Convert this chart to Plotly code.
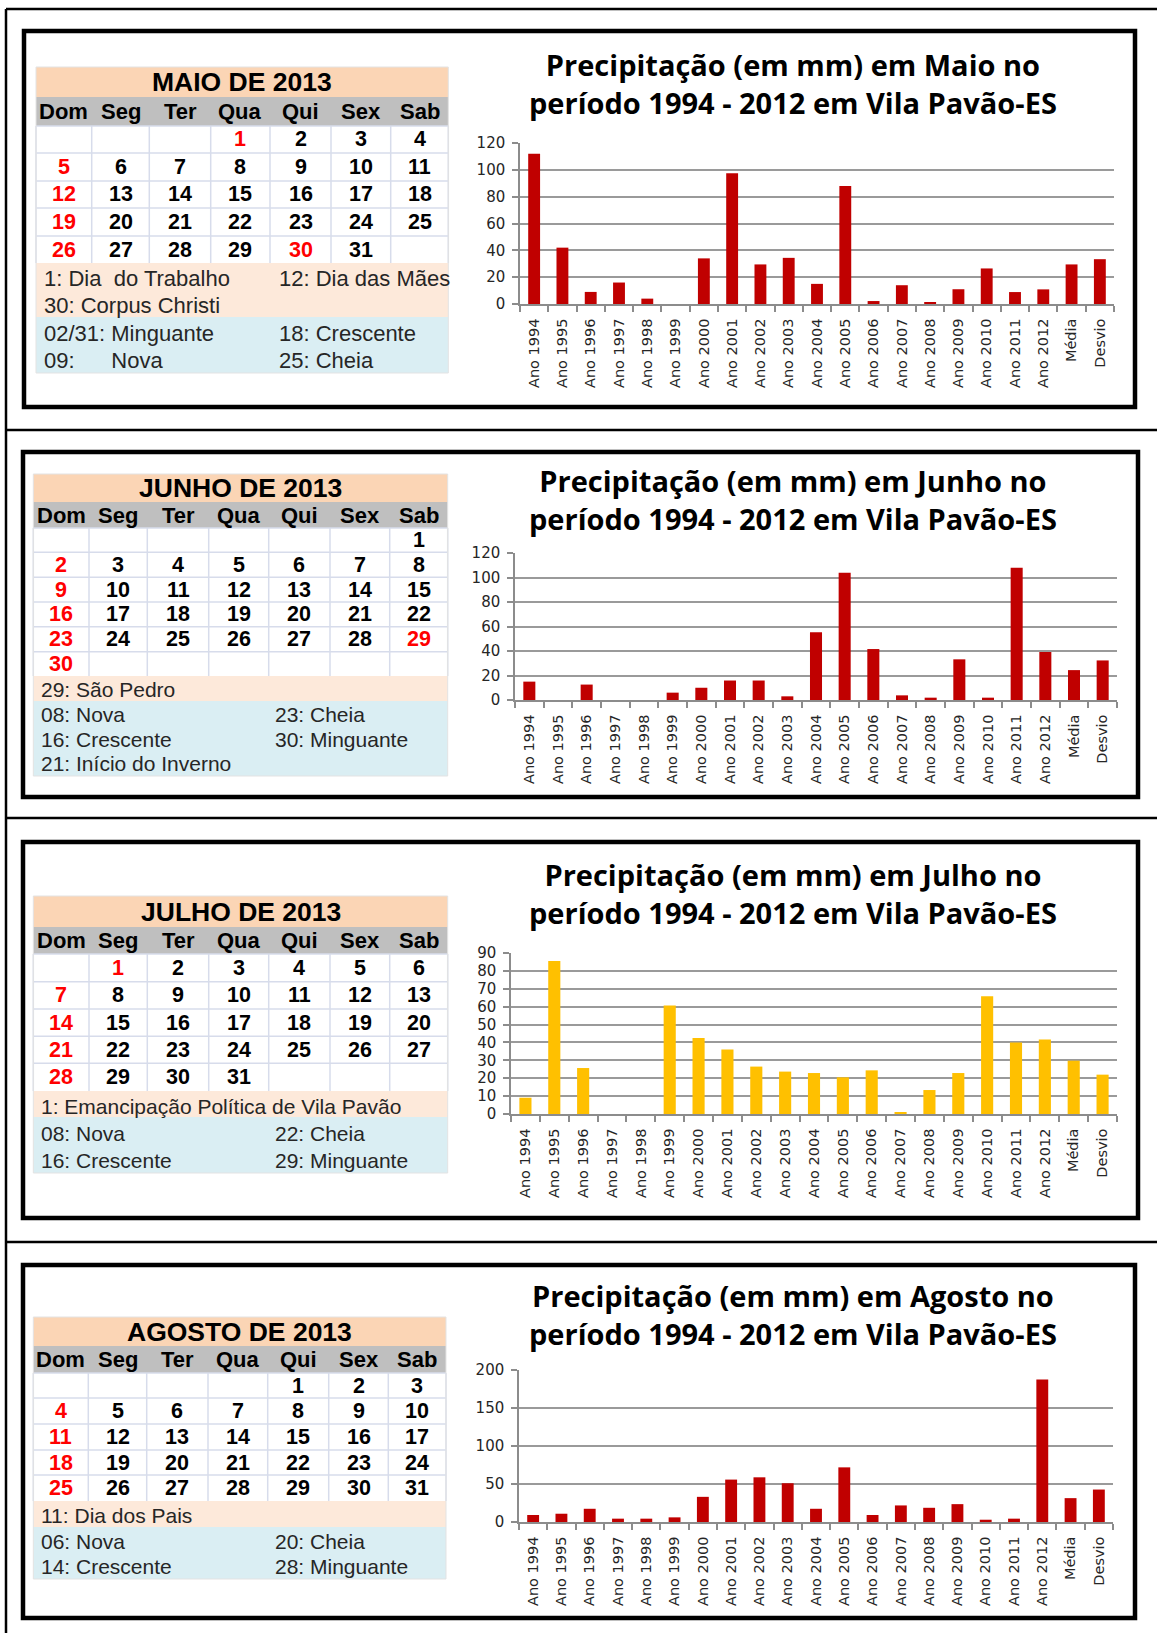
import plotly.graph_objects as go

W, H = 1157, 1633

# ---------------------------------------------------------------- data
categories = ["Ano 1994", "Ano 1995", "Ano 1996", "Ano 1997", "Ano 1998",
              "Ano 1999", "Ano 2000", "Ano 2001", "Ano 2002", "Ano 2003",
              "Ano 2004", "Ano 2005", "Ano 2006", "Ano 2007", "Ano 2008",
              "Ano 2009", "Ano 2010", "Ano 2011", "Ano 2012", "Média", "Desvio"]

maio_mm = [112, 42, 9, 16, 4, 0, 34, 97.5, 29.5, 34.4, 15, 88, 2.2, 14, 1.2,
           11, 26.5, 8.9, 10.9, 29.5, 33.4]
junho_mm = [15, 0, 12.6, 0, 0, 6, 10, 15.9, 15.9, 3, 55.3, 103.8, 41.6, 3.8,
            1.9, 33.2, 1.9, 108, 39.2, 24.4, 32.3]
julho_mm = [9.1, 85.5, 25.7, 0, 0, 60.7, 42.5, 36, 26.5, 23.7, 22.9, 20.5,
            24.4, 1.1, 13.4, 22.9, 65.8, 40, 41.7, 29.8, 22]
agosto_mm = [9.2, 10.9, 17.4, 4.4, 4.4, 6.1, 33.1, 55.8, 58.8, 51, 17.4, 71.9,
             9.2, 21.8, 18.7, 23.5, 3, 4.4, 187.4, 31.4, 42.7]

chart_titles = [
    ("Precipitação (em mm) em Maio no", "período 1994 - 2012 em Vila Pavão-ES"),
    ("Precipitação (em mm) em Junho no", "período 1994 - 2012 em Vila Pavão-ES"),
    ("Precipitação (em mm) em Julho no", "período 1994 - 2012 em Vila Pavão-ES"),
    ("Precipitação (em mm) em Agosto no", "período 1994 - 2012 em Vila Pavão-ES"),
]

weekdays = ["Dom", "Seg", "Ter", "Qua", "Qui", "Sex", "Sab"]

month_titles = ["MAIO DE 2013", "JUNHO DE 2013", "JULHO DE 2013", "AGOSTO DE 2013"]
first_weekday = [3, 6, 1, 4]          # column of day 1 (0 = Dom)
days_in_month = [31, 30, 31, 31]
holidays = [[1, 30], [29], [1], []]

# notes: (text, column, line)
pink_notes = [
    [("1: Dia\u00a0 do Trabalho", 0, 0), ("12: Dia das Mães", 1, 0),
     ("30: Corpus Christi", 0, 1)],
    [("29: São Pedro", 0, 0)],
    [("1: Emancipação Política de Vila Pavão", 0, 0)],
    [("11: Dia dos Pais", 0, 0)],
]
blue_notes = [
    [("02/31: Minguante", 0, 0), ("18: Crescente", 1, 0),
     ("09:\u00a0\u00a0\u00a0\u00a0\u00a0\u00a0Nova", 0, 1), ("25: Cheia", 1, 1)],
    [("08: Nova", 0, 0), ("23: Cheia", 1, 0), ("16: Crescente", 0, 1),
     ("30: Minguante", 1, 1), ("21: Início do Inverno", 0, 2)],
    [("08: Nova", 0, 0), ("22: Cheia", 1, 0), ("16: Crescente", 0, 1),
     ("29: Minguante", 1, 1)],
    [("06: Nova", 0, 0), ("20: Cheia", 1, 0), ("14: Crescente", 0, 1),
     ("28: Minguante", 1, 1)],
]

# ---------------------------------------------------------------- layout (pixels)
cal_boxes = [
    dict(cols=[36, 91.7, 149.3, 210.7, 270, 331, 390.7, 448.3], title=(67, 97),
         header=(97, 126), rows=[126, 153, 181, 208, 236, 263], pink=(263, 317),
         blue=(317, 373), note_x=(42, 277), pink_lines=[278, 305],
         blue_lines=[333, 360], note_size=22),
    dict(cols=[33.3, 89, 147.3, 208.7, 268.7, 330, 389.7, 447.7], title=(474, 502),
         header=(502, 528), rows=[528, 552.3, 577.3, 602, 626.7, 651.7, 676],
         pink=(676, 701), blue=(701, 776), note_x=(39, 273), pink_lines=[689],
         blue_lines=[714, 739, 763], note_size=21),
    dict(cols=[33.3, 89, 147.3, 208.7, 268.7, 330, 389.7, 447.7], title=(896, 927),
         header=(927, 954), rows=[954, 981.7, 1009, 1036.3, 1063.3, 1091],
         pink=(1091, 1117), blue=(1117, 1173), note_x=(39, 273), pink_lines=[1106],
         blue_lines=[1133, 1160], note_size=21),
    dict(cols=[33.3, 88.3, 146.7, 208, 267.7, 328.7, 388.3, 446], title=(1317, 1346),
         header=(1346, 1373), rows=[1373, 1398, 1424, 1450, 1475, 1501],
         pink=(1501, 1527), blue=(1527, 1579), note_x=(39, 273), pink_lines=[1515],
         blue_lines=[1541, 1566], note_size=21),
]

# title_y is the vertical centre of the two-line chart heading
chart_boxes = [
    dict(x=(520, 1114), y=(143, 304), ymax=120, dtick=20, title_y=83.5),
    dict(x=(515, 1117), y=(553, 700), ymax=120, dtick=20, title_y=499),
    dict(x=(511, 1117), y=(953, 1114), ymax=90, dtick=10, title_y=893.5),
    dict(x=(519, 1113), y=(1370, 1522), ymax=200, dtick=50, title_y=1314),
]
series = [maio_mm, junho_mm, julho_mm, agosto_mm]
bar_colors = ["#C00000", "#C00000", "#FFC000", "#C00000"]

frames = [(24, 31, 1135, 407), (23, 452, 1138, 797), (23, 842, 1138, 1218),
          (23, 1265, 1135, 1618)]
separators = [9, 430, 818, 1242]

# ---------------------------------------------------------------- helpers
shapes, annotations = [], []
CAL_FONT = "Liberation Sans, Arial, sans-serif"
TITLE_FONT = "Open Sans, sans-serif"
TICK_FONT = "DejaVu Sans, sans-serif"


def fx(x):
    return x / W


def fy(y):
    return 1 - y / H


def rect(x0, y0, x1, y1, fill=None, color=None, width=0, layer="below"):
    shapes.append(dict(type="rect", xref="paper", yref="paper",
                       x0=fx(x0), x1=fx(x1), y0=fy(y1), y1=fy(y0),
                       fillcolor=fill or "rgba(0,0,0,0)",
                       line=dict(color=color or "rgba(0,0,0,0)", width=width),
                       layer=layer))


def seg(x0, y0, x1, y1, color, width, layer="below"):
    shapes.append(dict(type="line", xref="paper", yref="paper",
                       x0=fx(x0), x1=fx(x1), y0=fy(y0), y1=fy(y1),
                       line=dict(color=color, width=width), layer=layer))


def label(x, y, s, size, color="#000000", family=CAL_FONT, xanchor="center",
          align="left"):
    annotations.append(dict(x=fx(x), y=fy(y), xref="paper", yref="paper",
                            text=s, showarrow=False, xanchor=xanchor,
                            yanchor="middle", align=align,
                            font=dict(size=size, color=color, family=family)))


# ---------------------------------------------------------------- calendars
GRID = "#D7DCEB"
for m, box in enumerate(cal_boxes):
    cols = box["cols"]
    left, right = cols[0], cols[-1]
    rows = box["rows"]
    rect(left, box["title"][0], right, box["title"][1], fill="#FBD5B5")
    rect(left, box["header"][0], right, box["header"][1], fill="#BFBFBF")
    rect(left, rows[0], right, rows[-1], fill="#FFFFFF")
    rect(left, box["pink"][0], right, box["pink"][1], fill="#FDE9DA")
    rect(left, box["blue"][0], right, box["blue"][1], fill="#DAEEF3")
    # cell grid
    for yv in rows[:-1]:
        seg(left, yv, right, yv, GRID, 1.5)
    for xv in cols:
        seg(xv, rows[0], xv, rows[-1], GRID, 1.5)
    rect(left, box["title"][0], right, box["blue"][1], color="#E3E3E3", width=1)

    label((left + right) / 2, sum(box["title"]) / 2,
          "<b>" + month_titles[m] + "</b>", 26.5)
    for c, wd in enumerate(weekdays):
        label((cols[c] + cols[c + 1]) / 2, sum(box["header"]) / 2,
              "<b>" + wd + "</b>", 22)
    for d in range(1, days_in_month[m] + 1):
        pos = first_weekday[m] + d - 1
        r, c = divmod(pos, 7)
        red = c == 0 or d in holidays[m]
        label((cols[c] + cols[c + 1]) / 2, (rows[r] + rows[r + 1]) / 2,
              "<b>" + str(d) + "</b>", 21.5,
              color="#FF0000" if red else "#000000")
    for txt, col, ln in pink_notes[m]:
        label(box["note_x"][col], box["pink_lines"][ln], txt, box["note_size"],
              color="#262626", xanchor="left")
    for txt, col, ln in blue_notes[m]:
        label(box["note_x"][col], box["blue_lines"][ln], txt, box["note_size"],
              color="#262626", xanchor="left")

# ---------------------------------------------------------------- bar charts
fig = go.Figure()
layout_axes = {}
AXIS = "#8C8C8C"
for i, cb in enumerate(chart_boxes, start=1):
    sfx = "" if i == 1 else str(i)
    fig.add_trace(go.Bar(x=categories, y=series[i - 1], xaxis="x" + sfx,
                         yaxis="y" + sfx, marker=dict(color=bar_colors[i - 1],
                                                      line=dict(width=0)),
                         showlegend=False, hoverinfo="x+y"))
    layout_axes["xaxis" + sfx] = dict(
        domain=[fx(cb["x"][0]), fx(cb["x"][1])], anchor="y" + sfx,
        type="category", tickson="boundaries", ticks="outside", ticklen=6,
        tickcolor=AXIS, tickwidth=1.5, showline=True, linecolor=AXIS,
        linewidth=1.5, showgrid=False, tickangle=-90, automargin=False,
        ticklabelstandoff=7,
        tickfont=dict(family=TICK_FONT, size=14.5, color="#262626"))
    layout_axes["yaxis" + sfx] = dict(
        domain=[fy(cb["y"][1]), fy(cb["y"][0])], anchor="x" + sfx,
        range=[0, cb["ymax"]], dtick=cb["dtick"], tick0=0, showgrid=True,
        gridcolor="#9A9A9A", gridwidth=1.5, ticks="outside", ticklen=6,
        tickcolor=AXIS, tickwidth=1.5, showline=True, linecolor=AXIS,
        linewidth=1.5, zeroline=False, automargin=False, ticklabelstandoff=4,
        tickfont=dict(family=TICK_FONT, size=15, color="#262626"))
    t1, t2 = chart_titles[i - 1]
    label(793, cb["title_y"], "<b>" + t1 + "<br>" + t2 + "</b>", 29,
          family=TITLE_FONT, align="center")

# ---------------------------------------------------------------- frames
seg(6, 9, 6, H, "#000000", 2.5, layer="above")
for yv in separators:
    seg(6, yv, W, yv, "#000000", 2.5, layer="above")
for x0, y0, x1, y1 in frames:
    rect(x0, y0, x1, y1, color="#000000", width=4.5, layer="above")

fig.update_layout(
    width=W, height=H, margin=dict(l=0, r=0, t=0, b=0),
    paper_bgcolor="#FFFFFF", plot_bgcolor="#FFFFFF",
    bargap=0.58, shapes=shapes, annotations=annotations, **layout_axes)

fig.write_html("out.html")
